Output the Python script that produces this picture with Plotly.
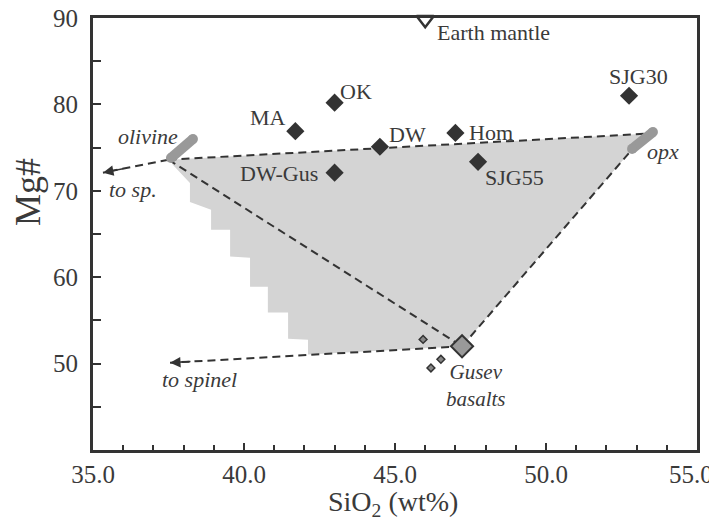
import plotly.graph_objects as go

# ---- data ----
samples = ["MA", "OK", "DW", "DW-Gus", "Hom", "SJG55", "SJG30"]
sample_sio2 = [41.70, 43.00, 44.50, 43.00, 47.00, 47.75, 52.75]
sample_mg = [76.9, 80.2, 75.1, 72.1, 76.7, 73.35, 81.0]

earth_mantle_sio2 = [46.0]
earth_mantle_mg = [89.8]

gusev_sio2 = [47.22]
gusev_mg = [52.0]
gusev_small_sio2 = [45.93, 46.52, 46.19]
gusev_small_mg = [52.8, 50.5, 49.5]

olivine_bar_sio2 = [37.58, 38.31]
olivine_bar_mg = [73.8, 76.0]
opx_bar_sio2 = [52.85, 53.54]
opx_bar_mg = [74.85, 76.8]

# mixing lines
ol_opx_sio2 = [37.50, 53.28]
ol_opx_mg = [73.6, 76.6]
ol_gus_sio2 = [37.50, 47.22]
ol_gus_mg = [73.6, 52.0]
gus_opx_sio2 = [47.22, 52.78]
gus_opx_mg = [52.0, 74.5]
to_sp_sio2 = [37.50, 35.33]
to_sp_mg = [73.6, 72.1]
to_spinel_sio2 = [47.22, 37.55]
to_spinel_mg = [52.0, 50.1]

# shaded field
field_sio2 = [37.55, 53.28, 52.78, 47.22, 42.12, 42.12, 41.46, 41.46, 40.79, 40.79,
              40.20, 40.20, 39.54, 39.54, 38.91, 38.91, 38.21, 38.21, 37.65, 37.55]
field_mg = [73.6, 76.6, 74.5, 52.0, 51.04, 52.77, 52.89, 55.9, 55.9, 58.9,
            58.9, 62.25, 62.4, 65.5, 65.5, 67.8, 68.7, 70.9, 73.0, 73.6]

x_range = [35, 55]
y_range = [40, 90]
x_ticks = [35, 40, 45, 50, 55]
x_ticklabels = ["35.0", "40.0", "45.0", "50.0", "55.0"]
y_ticks = [50, 60, 70, 80, 90]
y_minor_ticks = [45, 55, 65, 75, 85]

# label placements: (text, x, y, xanchor, italic)
labels = [
    ("MA", 41.46, 78.44, "right", False),
    ("OK", 43.11, 81.45, "left", False),
    ("DW", 44.74, 76.47, "left", False),
    ("DW-Gus", 42.52, 71.97, "right", False),
    ("Hom", 47.38, 76.8, "left", False),
    ("SJG55", 47.91, 71.5, "left", False),
    ("SJG30", 53.05, 83.18, "center", False),
    ("Earth mantle", 46.32, 88.38, "left", False),
    ("olivine", 37.88, 76.24, "right", True),
    ("to sp.", 35.46, 70.1, "left", True),
    ("to spinel", 37.22, 48.15, "left", True),
    ("opx", 53.28, 74.5, "left", True),
]
gusev_label = ("Gusev<br>basalts", 47.68, 47.45)

FONT = "Liberation Serif, Times New Roman, Times, serif"
DARK = "#333333"
TXT = "#3a3a3a"

# the page body adds an 8px offset, so the figure is 8px smaller on each side
OFF = 8
W, H = 717 - OFF, 520 - OFF
ML, MR, MT, MB = 93 - OFF, 20, 18 - OFF, 70
PW, PH = W - ML - MR, H - MT - MB
px_x = PW / (x_range[1] - x_range[0])
px_y = PH / (y_range[1] - y_range[0])


def paper_x(page_px):
    return (page_px - OFF - ML) / PW


def paper_y(page_py):
    return (H - MB - (page_py - OFF)) / PH


fig = go.Figure()

fig.add_trace(go.Scatter(x=field_sio2, y=field_mg, fill="toself", fillcolor="#d4d4d4",
                         mode="lines", line=dict(width=0), hoverinfo="skip"))

for xs, ys in [(ol_opx_sio2, ol_opx_mg), (ol_gus_sio2, ol_gus_mg), (gus_opx_sio2, gus_opx_mg),
               (to_sp_sio2, to_sp_mg), (to_spinel_sio2, to_spinel_mg)]:
    fig.add_trace(go.Scatter(x=xs, y=ys, mode="lines",
                             line=dict(color=DARK, width=2, dash="8px,5px")))

for xs, ys in [(olivine_bar_sio2, olivine_bar_mg), (opx_bar_sio2, opx_bar_mg)]:
    fig.add_trace(go.Scatter(x=xs, y=ys, mode="lines+markers",
                             line=dict(color="#999999", width=10),
                             marker=dict(color="#999999", size=10, line=dict(width=0))))

fig.add_trace(go.Scatter(x=sample_sio2, y=sample_mg, mode="markers",
                         marker=dict(symbol="diamond", size=14, color="#333333",
                                     line=dict(width=0))))
fig.add_trace(go.Scatter(x=gusev_small_sio2, y=gusev_small_mg, mode="markers",
                         marker=dict(symbol="diamond", size=6, color="#888888",
                                     line=dict(width=1.5, color=DARK))))
fig.add_trace(go.Scatter(x=gusev_sio2, y=gusev_mg, mode="markers",
                         marker=dict(symbol="diamond", size=17, color="#999999",
                                     line=dict(width=2, color=DARK))))
fig.add_trace(go.Scatter(x=earth_mantle_sio2, y=earth_mantle_mg, mode="markers",
                         cliponaxis=False,
                         marker=dict(symbol="triangle-down", size=15, color="white",
                                     line=dict(width=2.5, color=DARK))))

annotations = []
for text, x, y, xa, it in labels:
    annotations.append(dict(x=x, y=y, text=(f"<i>{text}</i>" if it else text),
                            xanchor=xa, yanchor="middle", showarrow=False,
                            font=dict(family=FONT, size=22, color=TXT)))
annotations.append(dict(x=gusev_label[1], y=gusev_label[2], text=f"<i>{gusev_label[0]}</i>",
                        xanchor="center", yanchor="middle", showarrow=False,
                        font=dict(family=FONT, size=21, color=TXT)))

# arrowheads at the ends of the "to sp." and "to spinel" lines
for xs, ys in [(to_sp_sio2, to_sp_mg), (to_spinel_sio2, to_spinel_mg)]:
    dxp = (xs[0] - xs[1]) * px_x
    dyp = -(ys[0] - ys[1]) * px_y
    n = (dxp ** 2 + dyp ** 2) ** 0.5
    annotations.append(dict(x=xs[1], y=ys[1], ax=dxp / n * 22, ay=dyp / n * 22,
                            xref="x", yref="y", text="",
                            showarrow=True, arrowhead=2, arrowsize=1.4, arrowwidth=1.5,
                            arrowcolor=DARK))

# axis titles
annotations.append(dict(x=paper_x(393), y=paper_y(503),
                        xref="paper", yref="paper", xanchor="center", yanchor="middle",
                        text="SiO<sub>2</sub> (wt%)", showarrow=False,
                        font=dict(family=FONT, size=28, color=TXT)))
annotations.append(dict(x=paper_x(28), y=paper_y(192),
                        xref="paper", yref="paper", xanchor="center", yanchor="middle",
                        text="Mg#", textangle=-90, showarrow=False,
                        font=dict(family=FONT, size=36, color=TXT)))

# the last x label sits at the page edge: pad it so it stays inside the picture
x_ticktext = x_ticklabels[:-1] + [x_ticklabels[-1] + "\u00a0\u00a0"]

fig.update_layout(
    template="none",
    width=W, height=H,
    margin=dict(l=ML, r=MR, t=MT, b=MB),
    plot_bgcolor="white", paper_bgcolor="white",
    showlegend=False,
    font=dict(family=FONT, color=TXT),
    annotations=annotations,
    xaxis=dict(range=x_range, tickvals=x_ticks, ticktext=x_ticktext, automargin=False,
               showgrid=False, zeroline=False,
               showline=True, mirror=True, linewidth=3, linecolor=DARK,
               ticks="inside", ticklen=7, tickwidth=1.5, tickcolor=DARK,
               minor=dict(dtick=1, ticks="inside", ticklen=5, tickwidth=1.5, tickcolor=DARK,
                          showgrid=False),
               ticklabeloverflow="allow", ticklabelstandoff=0,
               tickfont=dict(family=FONT, size=25, color=TXT)),
    yaxis=dict(range=y_range, tickvals=y_ticks, automargin=False,
               showgrid=False, zeroline=False,
               showline=True, mirror=True, linewidth=3, linecolor=DARK,
               ticks="inside", ticklen=8, tickwidth=1.5, tickcolor=DARK,
               minor=dict(tickvals=y_minor_ticks, ticks="inside", ticklen=8,
                          tickwidth=1.5, tickcolor=DARK, showgrid=False),
               ticklabeloverflow="allow", ticklabelstandoff=7,
               tickfont=dict(family=FONT, size=25, color=TXT)),
)

fig.write_html("out.html")
